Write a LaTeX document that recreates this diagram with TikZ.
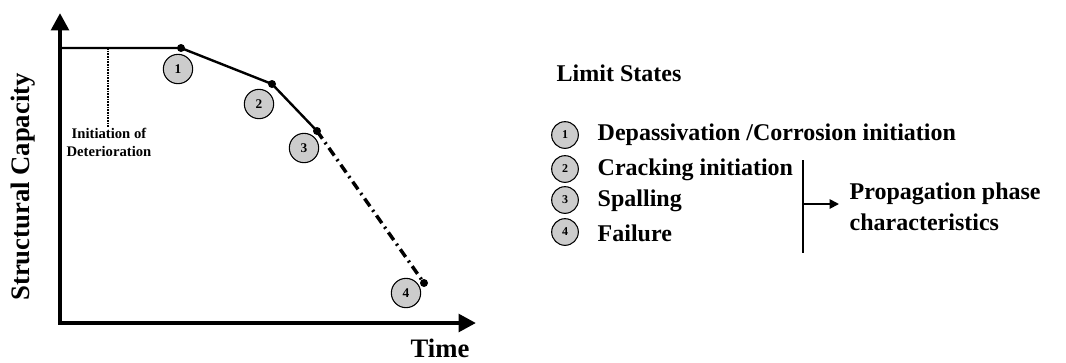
\documentclass[tikz,border=0pt]{standalone}
\usepackage{fontspec}
\setmainfont{Liberation Serif}
\usetikzlibrary{arrows.meta}
\begin{document}
\begin{tikzpicture}[x=0.75pt,y=-0.75pt,font=\bfseries,
  state/.style={circle,draw,thick,fill=gray!40,minimum size=22pt,inner sep=0pt,font=\bfseries\fontsize{10}{10}\selectfont},
  key/.style={circle,draw,thick,fill=gray!40,minimum size=20pt,inner sep=0pt,font=\bfseries\fontsize{9}{9}\selectfont},
  dot/.style={circle,fill,inner sep=0pt,minimum size=6pt},
  big/.style={font=\bfseries\fontsize{20}{24}\selectfont},
  entry/.style={anchor=west,font=\bfseries\fontsize{18}{23}\selectfont}]
\useasboundingbox (0,0) rectangle (1066,362);

\coordinate (o) at (60,323);
\coordinate (ytip) at (60,13);
\coordinate (xtip) at (476,323);
\coordinate (p0) at (60,48);
\node[dot] (p1) at (181,48) {};
\node[dot] (p2) at (272,84) {};
\node[dot] (p3) at (317,131) {};
\node[dot] (p4) at (424,283) {};
\draw[line width=3.2pt,{Triangle[length=13pt,width=13pt]}-{Triangle[length=13pt,width=13pt]}] (ytip) -- (o) -- (xtip);
\draw[line width=1.8pt] (p0) -- (p1.center) -- (p2.center) -- (p3.center);
\draw[line width=2.6pt,dash pattern=on 7pt off 3.5pt on 1.5pt off 3.5pt] (p3.center) -- (p4.center);

\node[state] (s1) at (178,69) {1};
\node[state] (s2) at (259,104) {2};
\node[state] (s3) at (304,148) {3};
\node[state] (s4) at (406,293) {4};

\coordinate (d0) at (108,48);
\node[anchor=north,align=center,inner sep=1pt,font=\bfseries\fontsize{11}{13.5}\selectfont] (init) at (109,127) {Initiation of\\Deterioration};
\draw[line width=2pt,dash pattern=on 1.2pt off 0.8pt] (d0) -- (init.north -| d0);

\node[big,rotate=90] (cap) at (23,187) {Structural Capacity};
\node[big,anchor=base] (time) at (440,357) {Time};

\node[entry] (title) at (552,73) {Limit States};
\node[key] (l1) at (565,135) {1};
\node[key] (l2) at (565,169) {2};
\node[key] (l3) at (565,200) {3};
\node[key] (l4) at (565,232) {4};
\node[entry] (t1) at (593,135) {Depassivation /Corrosion initiation};
\node[entry] (t2) at (593,170) {Cracking initiation};
\node[entry] (t3) at (593,201) {Spalling};
\node[entry] (t4) at (593,233) {Failure};

\coordinate (b1) at (803,160);
\coordinate (b2) at (803,253);
\coordinate (b3) at (803,204);
\coordinate (b4) at (839,204);
\draw[line width=1.5pt] (b1) -- (b2);
\draw[line width=1.3pt,-{Triangle[length=7pt,width=7pt]}] (b3) -- (b4);
\node[entry,align=left] (prop) at (845,207) {Propagation phase\\characteristics};
\end{tikzpicture}
\end{document}
